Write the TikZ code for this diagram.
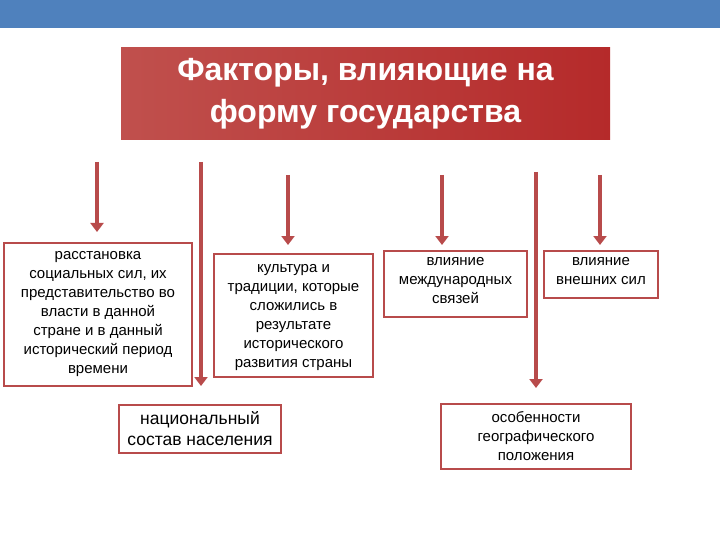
\documentclass[tikz,border=0pt]{standalone}
\usepackage{fontspec}
\setmainfont{Liberation Sans}
\usetikzlibrary{arrows.meta}
\definecolor{bar}{HTML}{4F81BD}
\definecolor{red1}{HTML}{C0504D}
\definecolor{red2}{HTML}{B52A2A}
\definecolor{ln}{HTML}{B84B4B}
\begin{document}
\begin{tikzpicture}[x=1pt,y=-1pt,
  box/.style={draw=ln,line width=2pt,fill=white,align=center,font=\fontsize{15}{19}\selectfont,inner sep=0pt,anchor=north west},
  txt/.style={align=center,font=\fontsize{15}{19}\selectfont,inner sep=0pt},
  arr/.style={draw=ln,line width=3.2pt,-{Triangle[length=9pt,width=13pt]}}]
\useasboundingbox (0,0) rectangle (720,540);
\fill[bar] (0,0) rectangle (720,28);
\shade[left color=red1,right color=red2] (121,48) rectangle (610,140);
\node[font=\bfseries\fontsize{32}{42}\selectfont,text=white,align=center] (t) at (365.5,94) {Факторы, влияющие на\\форму государства};
\node[box,minimum width=188pt,minimum height=143pt] (a) at (3,242) {};
\node[txt] at (a.center) {расстановка\\социальных сил, их\\представительство во\\власти в данной\\стране и в данный\\исторический период\\времени};
\node[box,minimum width=159pt,minimum height=123pt] (c) at (213,253) {};
\node[txt] at ([yshift=-2pt]c.center) {культура и\\традиции, которые\\сложились в\\результате\\исторического\\развития страны};
\node[box,minimum width=143pt,minimum height=66pt] (d) at (383,250) {};
\node[txt,anchor=north] at ([yshift=-7pt]d.north) {влияние\\международных\\связей};
\node[box,minimum width=114pt,minimum height=47pt] (e) at (543,250) {};
\node[txt,anchor=north] at ([yshift=-7pt]e.north) {влияние\\внешних сил};
\node[box,minimum width=162pt,minimum height=48pt,font=\fontsize{17.5}{21}\selectfont] (f) at (118,404) {национальный\\состав населения};
\node[box,minimum width=190pt,minimum height=65pt] (g) at (440,403) {особенности\\географического\\положения};
\coordinate (s1) at (97,162);
\coordinate (s2) at (201,162);
\coordinate (s3) at (288,175);
\coordinate (s4) at (442,175);
\coordinate (s5) at (536,172);
\coordinate (s6) at (600,175);
\draw[arr] (s1) -- (97,232);
\draw[arr] (s2) -- (201,386);
\draw[arr] (s3) -- (288,245);
\draw[arr] (s4) -- (442,245);
\draw[arr] (s5) -- (536,388);
\draw[arr] (s6) -- (600,245);
\end{tikzpicture}
\end{document}
